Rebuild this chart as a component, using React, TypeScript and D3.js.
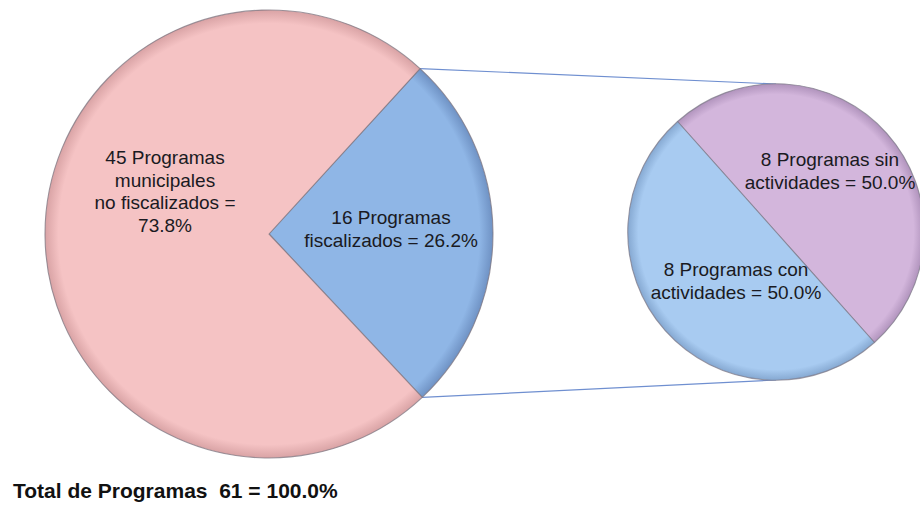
import React from "react";
import * as d3 from "d3";

const mainCategories = ["16 Programas fiscalizados", "45 Programas municipales no fiscalizados"];
const mainValues = [16, 45];
const mainLabels = [
  ["16 Programas", "fiscalizados = 26.2%"],
  ["45 Programas", "municipales", "no fiscalizados =", "73.8%"],
];
const subCategories = ["8 Programas sin actividades", "8 Programas con actividades"];
const subValues = [8, 8];
const subLabels = [
  ["8 Programas sin", "actividades = 50.0%"],
  ["8 Programas con", "actividades = 50.0%"],
];
const totalLabel = "Total de Programas  61 = 100.0%";

const W = 920;
const H = 506;
const deg = Math.PI / 180;

// layout
const main = { cx: 269, cy: 234, r: 224, start: 42.4 * deg };
const sub = { cx: 776, cy: 232, r: 148, start: -41.7 * deg };
const mainColors = ["#8fb6e6", "#f5c3c4"];
const mainEdge = ["#6f92c4", "#d9a3a5"];
const subColors = ["#d3b6dc", "#a8cbf1"];
const subEdge = ["#b194bd", "#86a9d2"];
const mainLabelPos = [
  { x: 391, y: 224 },
  { x: 165, y: 164 },
];
const subLabelPos = [
  { x: 830, y: 166 },
  { x: 736, y: 276 },
];
const lineH = 22.5;
const font = "'Liberation Sans', Arial, Helvetica, sans-serif";

export default function App() {
  const mainPie = d3
    .pie<number>()
    .sort(null)
    .value((d) => d)
    .startAngle(main.start)
    .endAngle(main.start + 2 * Math.PI)(mainValues);
  const subPie = d3
    .pie<number>()
    .sort(null)
    .value((d) => d)
    .startAngle(sub.start)
    .endAngle(sub.start + 2 * Math.PI)(subValues);

  const mainArc = d3.arc<d3.PieArcDatum<number>>().innerRadius(0).outerRadius(main.r);
  const subArc = d3.arc<d3.PieArcDatum<number>>().innerRadius(0).outerRadius(sub.r);

  const blue = mainPie[0];
  const p1: [number, number] = [main.cx + main.r * Math.sin(blue.startAngle), main.cy - main.r * Math.cos(blue.startAngle)];
  const p2: [number, number] = [main.cx + main.r * Math.sin(blue.endAngle), main.cy - main.r * Math.cos(blue.endAngle)];
  const q1: [number, number] = [sub.cx, sub.cy - sub.r];
  const q2: [number, number] = [sub.cx, sub.cy + sub.r];
  const line = d3.line();

  return (
    <svg
      width={W}
      height={H}
      viewBox={`0 0 ${W} ${H}`}
      style={{ position: "absolute", left: 0, top: 0, background: "#ffffff" }}
    >
      <defs>
        {mainColors.map((c, i) => (
          <radialGradient key={"mg" + i} id={"mg" + i} cx={0} cy={0} r={main.r} gradientUnits="userSpaceOnUse">
            <stop offset="0%" stopColor={c} />
            <stop offset="94%" stopColor={c} />
            <stop offset="100%" stopColor={mainEdge[i]} />
          </radialGradient>
        ))}
        {subColors.map((c, i) => (
          <radialGradient key={"sg" + i} id={"sg" + i} cx={0} cy={0} r={sub.r} gradientUnits="userSpaceOnUse">
            <stop offset="0%" stopColor={c} />
            <stop offset="93%" stopColor={c} />
            <stop offset="100%" stopColor={subEdge[i]} />
          </radialGradient>
        ))}
      </defs>

      <path d={line([p1, q1]) || ""} stroke="#6f8fd0" strokeWidth={1.2} fill="none" />
      <path d={line([p2, q2]) || ""} stroke="#6f8fd0" strokeWidth={1.2} fill="none" />

      {mainPie.map((d, i) => (
        <path
          key={mainCategories[i]}
          d={mainArc(d) || ""}
          transform={`translate(${main.cx},${main.cy})`}
          fill={`url(#mg${i})`}
          stroke="#7d7580"
          strokeOpacity={0.75}
          strokeWidth={1.1}
          strokeLinejoin="round"
        />
      ))}
      {subPie.map((d, i) => (
        <path
          key={subCategories[i]}
          d={subArc(d) || ""}
          transform={`translate(${sub.cx},${sub.cy})`}
          fill={`url(#sg${i})`}
          stroke="#7d7a88"
          strokeOpacity={0.75}
          strokeWidth={1.1}
          strokeLinejoin="round"
        />
      ))}

      {mainLabels.map((lines, i) => (
        <text key={"ml" + i} x={mainLabelPos[i].x} y={mainLabelPos[i].y} textAnchor="middle" fontFamily={font} fontSize={19} fill="#1a1a22">
          {lines.map((t, j) => (
            <tspan key={j} x={mainLabelPos[i].x} y={mainLabelPos[i].y + j * lineH}>
              {t}
            </tspan>
          ))}
        </text>
      ))}
      {subLabels.map((lines, i) => (
        <text key={"sl" + i} x={subLabelPos[i].x} y={subLabelPos[i].y} textAnchor="middle" fontFamily={font} fontSize={19} fill="#1a1a22">
          {lines.map((t, j) => (
            <tspan key={j} x={subLabelPos[i].x} y={subLabelPos[i].y + j * lineH}>
              {t}
            </tspan>
          ))}
        </text>
      ))}

      <text x={13} y={498} fontFamily={font} fontSize={21} fontWeight="bold" fill="#111" style={{ whiteSpace: "pre" }}>
        {totalLabel}
      </text>
    </svg>
  );
}
